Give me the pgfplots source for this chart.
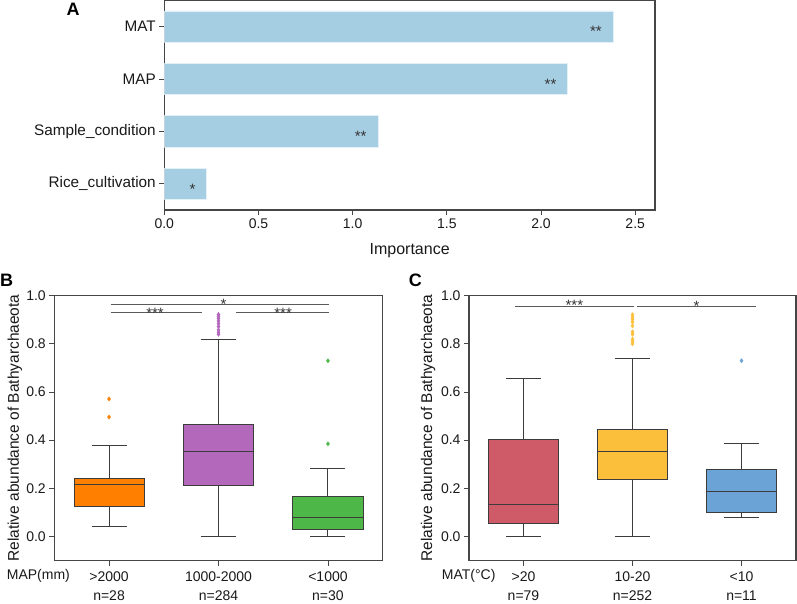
\documentclass[border=0pt]{standalone}
\usepackage{fontspec}
\setmainfont{Liberation Sans}
\usepackage{pgfplots}
\pgfplotsset{compat=1.18}
\usepgfplotslibrary{statistics}
\definecolor{barblue}{RGB}{166,206,227}
\definecolor{orangeC}{RGB}{255,127,0}
\definecolor{purpleC}{RGB}{179,104,187}
\definecolor{greenC}{RGB}{77,184,72}
\definecolor{redC}{RGB}{206,91,103}
\definecolor{yellowC}{RGB}{251,191,59}
\definecolor{blueC}{RGB}{107,163,214}
\definecolor{edgeC}{RGB}{60,60,60}
\definecolor{sigC}{RGB}{90,90,90}
\definecolor{axisC}{RGB}{70,70,70}
\pgfplotsset{
  panel/.style={
    scale only axis,
    axis line style={draw=axisC, line width=1.1pt},
    tick style={draw=axisC, line width=0.9pt},
    tick align=outside, major tick length=5pt, tick pos=left,
    ticklabel style={font=\fontsize{14}{16}\selectfont, text=black!90},
    /pgf/number format/assume math mode=true,
    label style={font=\fontsize{15.5}{18}\selectfont, text=black!90},
  },
  bx/.style={line width=1pt, draw=edgeC, mark=diamond*, mark size=2.2pt,
    boxplot/draw direction=y,
    boxplot/every median/.style={draw=edgeC, line width=1pt}},
}
\newcommand{\starfont}{\fontsize{15}{15}\selectfont}
\begin{document}
\begin{tikzpicture}[x=1pt,y=1pt]
\path[use as bounding box] (0,0) rectangle (797,-603);

% ---------- Panel A ----------
\begin{axis}[panel,
  at={(164.3pt,-210pt)}, anchor=south west,
  width=490.7pt, height=209.5pt,
  xmin=0, xmax=2.605, ymin=-0.5, ymax=3.5,
  xbar, bar width=31.4pt,
  ytick={0,1,2,3},
  yticklabels={Rice\_cultivation, Sample\_condition, MAP, MAT},
  yticklabel style={font=\fontsize{15.3}{17}\selectfont},
  xtick={0,0.5,1,1.5,2,2.5},
  xticklabel style={/pgf/number format/fixed, /pgf/number format/fixed zerofill, /pgf/number format/precision=1},
  xlabel={Importance},
  xlabel style={font=\fontsize{16}{18}\selectfont, at={(axis description cs:0.5,-0.21)}, anchor=base},
]
\addplot[fill=barblue, draw=white!70!barblue, line width=0.6pt] coordinates {(0.222,0) (1.137,1) (2.14,2) (2.381,3)};
\node[anchor=base east, font=\starfont, text=black!80, xshift=-7.5pt, yshift=-10.3pt] at (axis cs:2.381,3) {**};
\node[anchor=base east, font=\starfont, text=black!80, xshift=-7.5pt, yshift=-10.3pt] at (axis cs:2.14,2) {**};
\node[anchor=base east, font=\starfont, text=black!80, xshift=-8.5pt, yshift=-10.3pt] at (axis cs:1.137,1) {**};
\node[anchor=base east, font=\starfont, text=black!80, xshift=-7pt, yshift=-10.3pt] at (axis cs:0.222,0) {*};
\end{axis}

% ---------- Panel B ----------
\begin{axis}[panel,
  at={(54.3pt,-560.5pt)}, anchor=south west,
  width=328.4pt, height=264.8pt,
  xmin=-0.5, xmax=2.5, ymin=-0.1, ymax=1.0,
  ytick={0,0.2,0.4,0.6,0.8,1.0},
  yticklabel style={/pgf/number format/fixed, /pgf/number format/fixed zerofill, /pgf/number format/precision=1},
  xtick={0,1,2},
  xticklabels={{>2000\\n=28},{1000-2000\\n=284},{<1000\\n=30}},
  xticklabel style={align=center, font=\fontsize{14}{18.5}\selectfont, inner ysep=1pt, yshift=-5.5pt},
  ylabel={Relative abundance of Bathyarchaeota},
  ylabel style={at={(axis description cs:-0.12,0.5)}, anchor=center},
]
\addplot[bx, fill=orangeC, mark options={fill=orangeC, draw=orangeC, line width=0.2pt},
  boxplot prepared={draw position=0, lower whisker=0.042, lower quartile=0.125, median=0.215, upper quartile=0.242, upper whisker=0.378, box extend=0.64, whisker extend=0.32}]
  coordinates {(0,0.496) (0,0.571)};
\addplot[bx, fill=purpleC, mark options={fill=purpleC, draw=purpleC, line width=0.2pt},
  boxplot prepared={draw position=1, lower whisker=0.0, lower quartile=0.212, median=0.353, upper quartile=0.463, upper whisker=0.82, box extend=0.64, whisker extend=0.32}]
  coordinates {(1,0.84) (1,0.848) (1,0.858) (1,0.872) (1,0.884) (1,0.895) (1,0.905) (1,0.914) (1,0.922)};
\addplot[bx, fill=greenC, mark options={fill=greenC, draw=greenC, line width=0.2pt},
  boxplot prepared={draw position=2, lower whisker=0.0, lower quartile=0.028, median=0.078, upper quartile=0.166, upper whisker=0.281, box extend=0.64, whisker extend=0.32}]
  coordinates {(2,0.385) (2,0.73)};
\addplot[sigC, line width=0.9pt, forget plot] coordinates {(0.015,0.965) (2.01,0.965)};
\addplot[sigC, line width=0.9pt, forget plot] coordinates {(0.015,0.931) (0.848,0.931)};
\addplot[sigC, line width=0.9pt, forget plot] coordinates {(1.161,0.931) (2.01,0.931)};
\node[anchor=base, font=\starfont, text=black!80, yshift=-5.4pt] at (axis cs:1.046,0.965) {*};
\node[anchor=base, font=\starfont, text=black!80, yshift=-6pt] at (axis cs:0.42,0.931) {***};
\node[anchor=base, font=\starfont, text=black!80, yshift=-6pt] at (axis cs:1.59,0.931) {***};
\end{axis}

% ---------- Panel C ----------
\begin{axis}[panel,
  at={(469pt,-560.5pt)}, anchor=south west,
  width=327pt, height=264.8pt,
  xmin=-0.5, xmax=2.5, ymin=-0.1, ymax=1.0,
  ytick={0,0.2,0.4,0.6,0.8,1.0},
  yticklabel style={/pgf/number format/fixed, /pgf/number format/fixed zerofill, /pgf/number format/precision=1},
  xtick={0,1,2},
  xticklabels={{>20\\n=79},{10-20\\n=252},{<10\\n=11}},
  xticklabel style={align=center, font=\fontsize{14}{18.5}\selectfont, inner ysep=1pt, yshift=-5.5pt},
  ylabel={Relative abundance of Bathyarchaeota},
  ylabel style={at={(axis description cs:-0.125,0.5)}, anchor=center},
]
\addplot[bx, fill=redC, mark options={fill=redC, draw=redC, line width=0.2pt},
  boxplot prepared={draw position=0, lower whisker=0.0, lower quartile=0.055, median=0.133, upper quartile=0.402, upper whisker=0.657, box extend=0.64, whisker extend=0.32}]
  coordinates {};
\addplot[bx, fill=yellowC, mark options={fill=yellowC, draw=yellowC, line width=0.2pt},
  boxplot prepared={draw position=1, lower whisker=0.0, lower quartile=0.238, median=0.353, upper quartile=0.443, upper whisker=0.738, box extend=0.64, whisker extend=0.32}]
  coordinates {(1,0.80) (1,0.81) (1,0.82) (1,0.84) (1,0.85) (1,0.875) (1,0.89) (1,0.90) (1,0.91) (1,0.921)};
\addplot[bx, fill=blueC, mark options={fill=blueC, draw=blueC, line width=0.2pt},
  boxplot prepared={draw position=2, lower whisker=0.078, lower quartile=0.101, median=0.187, upper quartile=0.28, upper whisker=0.385, box extend=0.64, whisker extend=0.32}]
  coordinates {(2,0.73)};
\addplot[sigC, line width=0.9pt, forget plot] coordinates {(-0.076,0.954) (1.016,0.954)};
\addplot[sigC, line width=0.9pt, forget plot] coordinates {(1.041,0.954) (2.131,0.954)};
\node[anchor=base, font=\starfont, text=black!80, yshift=-4pt] at (axis cs:0.467,0.954) {***};
\node[anchor=base, font=\starfont, text=black!80, yshift=-5pt] at (axis cs:1.588,0.954) {*};
\end{axis}

% ---------- outer texts ----------
\node[anchor=base, font=\bfseries\fontsize{18}{20}\selectfont] at (73,-15) {A};
\node[anchor=base, font=\bfseries\fontsize{18}{20}\selectfont] at (6.5,-286.7) {B};
\node[anchor=base, font=\bfseries\fontsize{18}{20}\selectfont] at (415.3,-286.7) {C};
\node[anchor=base west, font=\fontsize{14}{16}\selectfont, text=black!90, inner sep=0pt] at (6.7,-579) {MAP(mm)};
\node[anchor=base west, font=\fontsize{14}{16}\selectfont, text=black!90, inner sep=0pt] at (441.7,-579) {MAT(°C)};
\end{tikzpicture}
\end{document}
